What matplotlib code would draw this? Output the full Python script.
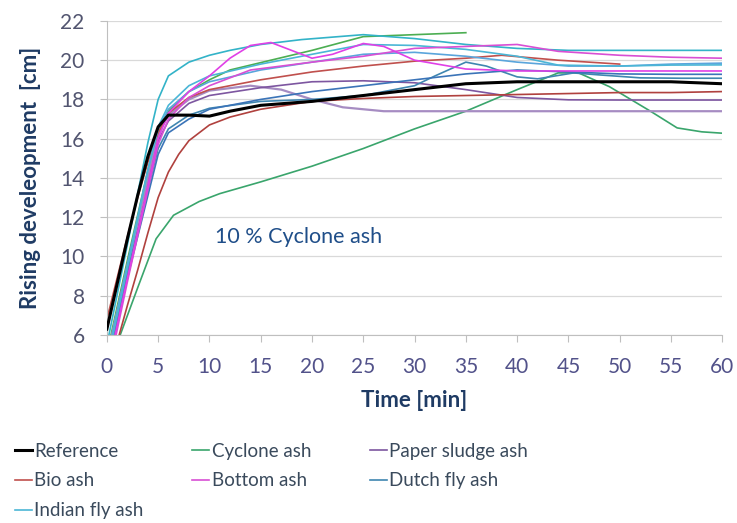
import matplotlib
matplotlib.use("Agg")
import matplotlib.pyplot as plt

plt.rcParams['font.family'] = ['Lato', 'DejaVu Sans']

# ---- data (time in min, rising in cm) ----
ref_t = [0, 1, 2, 3, 4, 5, 6, 8, 10, 12, 15, 20, 25, 30, 35, 40, 45, 50, 55, 60]
ref_y = [6.3, 8.6, 10.9, 13.1, 15.1, 16.6, 17.2, 17.2, 17.15, 17.4, 17.7, 17.9, 18.2, 18.5, 18.8, 18.9, 18.9, 18.9, 18.9, 18.8]

cyc_t = [1.3, 3, 4.8, 6.5, 9, 11, 15, 20, 25, 30, 35, 40, 44, 46, 49, 53, 55.6, 58, 60]
cyc_y = [6.0, 8.4, 10.9, 12.1, 12.8, 13.2, 13.8, 14.6, 15.5, 16.5, 17.4, 18.5, 19.35, 19.35, 18.65, 17.4, 16.55, 16.35, 16.28]

cyc2_t = [0.4, 2, 4, 5, 6, 8, 10, 12, 16, 20, 25, 30, 35]
cyc2_y = [6.0, 9.8, 14.4, 16.3, 17.4, 18.4, 19.0, 19.5, 20.0, 20.5, 21.2, 21.3, 21.4]

ind_t = [0.2, 2, 4, 5, 6, 8, 10, 12, 15, 19, 25, 30, 35, 40, 45, 50, 55, 60]
ind_y = [6.0, 10.6, 15.8, 18.0, 19.2, 19.9, 20.25, 20.5, 20.8, 21.05, 21.3, 21.1, 20.8, 20.6, 20.5, 20.5, 20.5, 20.5]

ind2_t = [0.6, 2, 4, 5, 6, 8, 10, 15, 20, 25, 30, 35, 40, 44, 50, 55, 60]
ind2_y = [6.0, 9.4, 14.4, 16.6, 17.7, 18.7, 19.2, 19.8, 20.3, 20.8, 20.75, 20.55, 20.2, 19.75, 19.7, 19.75, 19.76]

bot_t = [0.8, 2, 4, 5, 6, 8, 10, 12, 14, 16, 18, 20, 22, 25, 27, 30, 35, 40, 45, 50, 55, 60]
bot_y = [6.0, 8.9, 13.6, 16.0, 17.3, 18.4, 19.2, 20.1, 20.75, 20.9, 20.5, 20.1, 20.3, 20.85, 20.7, 20.0, 19.55, 19.45, 19.45, 19.45, 19.45, 19.45]

bot2_t = [0.9, 2, 4, 5, 6, 8, 10, 14, 20, 25, 30, 35, 40, 44, 50, 55, 60]
bot2_y = [6.0, 8.7, 13.4, 15.7, 17.0, 18.1, 18.7, 19.5, 19.9, 20.2, 20.6, 20.7, 20.8, 20.45, 20.25, 20.15, 20.1]

bio_t = [0.0, 1, 2, 3, 4, 5, 6, 8, 10, 15, 20, 25, 30, 35, 38.5, 44, 50]
bio_y = [6.8, 8.9, 11.0, 13.0, 14.8, 16.3, 17.3, 18.1, 18.5, 19.0, 19.4, 19.7, 19.95, 20.1, 20.25, 20.0, 19.8]

bio2_t = [1.2, 2, 3, 4, 5, 6, 7, 8, 10, 12, 15, 20, 25, 30, 35, 40, 45, 50, 55, 60]
bio2_y = [6.0, 7.5, 9.3, 11.2, 13.0, 14.3, 15.2, 15.9, 16.7, 17.1, 17.5, 17.9, 18.05, 18.15, 18.2, 18.25, 18.3, 18.35, 18.35, 18.4]

pap_t = [0.5, 2, 4, 5, 6, 8, 10, 14, 17, 20, 23, 27, 30, 35, 40, 45, 50, 55, 60]
pap_y = [6.0, 9.5, 14.0, 16.2, 17.2, 18.0, 18.45, 18.7, 18.5, 18.0, 17.6, 17.4, 17.4, 17.4, 17.4, 17.4, 17.4, 17.4, 17.4]

pap2_t = [0.7, 2, 4, 5, 6, 8, 10, 15, 20, 25, 30, 35, 40, 45, 50, 55, 60]
pap2_y = [6.0, 9.0, 13.6, 15.9, 16.9, 17.8, 18.2, 18.6, 18.9, 18.95, 18.85, 18.5, 18.1, 17.98, 17.97, 17.97, 17.97]

dut_t = [0.6, 2, 4, 5, 6, 8, 10, 15, 20, 25, 30, 32, 35, 37, 40, 42, 45.5, 48, 52, 56, 60]
dut_y = [6.0, 9.2, 13.4, 15.5, 16.5, 17.2, 17.55, 17.9, 18.0, 18.2, 18.7, 19.2, 19.9, 19.7, 19.15, 19.05, 19.35, 19.25, 19.1, 19.08, 19.08]

dut2_t = [0.7, 2, 4, 5, 6, 8, 10, 15, 20, 25, 30, 35, 40, 45, 50, 55, 60]
dut2_y = [6.0, 8.9, 13.1, 15.2, 16.3, 17.0, 17.5, 18.0, 18.4, 18.7, 19.0, 19.3, 19.5, 19.4, 19.3, 19.28, 19.28]

lb_t = [0.5, 2, 4, 5, 6, 8, 10, 15, 20, 25, 30, 35, 40, 45, 50, 55, 60]
lb_y = [6.0, 9.6, 14.4, 16.5, 17.5, 18.4, 18.9, 19.5, 19.9, 20.3, 20.4, 20.2, 19.9, 19.7, 19.7, 19.8, 19.85]

fig = plt.figure(figsize=(7.37, 5.23), dpi=100)
ax = fig.add_axes([0.145, 0.3595, 0.835, 0.6005])

lw = 1.2
ax.plot(cyc_t, cyc_y, color='#3aa56c', lw=lw)
ax.plot(cyc2_t, cyc2_y, color='#4cae52', lw=lw)
ax.plot(pap_t, pap_y, color='#a68cc2', lw=lw + 0.4)
ax.plot(pap2_t, pap2_y, color='#7d56a0', lw=lw)
ax.plot(bio2_t, bio2_y, color='#b0413e', lw=lw)
ax.plot(bio_t, bio_y, color='#c0504d', lw=lw)
ax.plot(dut_t, dut_y, color='#3f86b0', lw=lw)
ax.plot(dut2_t, dut2_y, color='#3b74b8', lw=lw)
ax.plot(lb_t, lb_y, color='#5aa5dc', lw=lw)
ax.plot(ind2_t, ind2_y, color='#4bb6d6', lw=lw)
ax.plot(ind_t, ind_y, color='#33b3c8', lw=lw)
ax.plot(bot2_t, bot2_y, color='#d84fd4', lw=lw)
ax.plot(bot_t, bot_y, color='#e040e6', lw=lw)
ax.plot(ref_t, ref_y, color='black', lw=2.2, zorder=5)

ax.set_xlim(0, 60)
ax.set_ylim(6, 22)
ax.set_xticks(range(0, 61, 5))
ax.set_yticks(range(6, 23, 2))
ax.grid(axis='y', color='#d9d9d9', lw=0.9)
ax.set_axisbelow(True)
for s in ['top', 'right']:
    ax.spines[s].set_visible(False)
ax.spines['left'].set_color('#bfbfbf')
ax.spines['bottom'].set_color('#bfbfbf')
ax.tick_params(axis='both', colors='#bfbfbf', length=5, labelsize=15)
for lab in ax.get_xticklabels():
    lab.set_color('#52528a')
for lab in ax.get_yticklabels():
    lab.set_color('#525570')
ax.tick_params(axis='x', pad=11)
ax.tick_params(axis='y', pad=11)

ax.set_xlabel('Time [min]', fontsize=16, fontweight='bold', color='#1f3b64', labelpad=9)
ax.set_ylabel('Rising develeopment  [cm]', fontsize=16, fontweight='bold', color='#1f3b64', labelpad=14)

ax.text(10.5, 11.0, '10 % Cyclone ash', fontsize=15.5, color='#1f4e89', va='center')

# legend, three columns placed like the original
names = ['Reference', 'Cyclone ash', 'Paper sludge ash', 'Bio ash', 'Bottom ash', 'Dutch fly ash', 'Indian fly ash']
leg_colors = ['black', '#3aa56c', '#7d56a0', '#c0504d', '#d84fd4', '#3f86b0', '#4bb6d6']
handles = []
for n, c in zip(names, leg_colors):
    h, = ax.plot([], [], color=c, lw=2.2 if n == 'Reference' else 1.2, label=n)
    handles.append(h)

cols = [[0, 3, 6], [1, 4], [2, 5]]
xs = [0.010, 0.251, 0.492]
for x0, idx in zip(xs, cols):
    lg = fig.legend(handles=[handles[i] for i in idx], loc='upper left',
                    bbox_to_anchor=(x0, 0.168), frameon=False, fontsize=13.5,
                    handlelength=0.9, handletextpad=0.12, labelspacing=0.68,
                    borderaxespad=0)
    for t in lg.get_texts():
        t.set_color('#3a4a5c')

fig.savefig('out.png', dpi=100)
